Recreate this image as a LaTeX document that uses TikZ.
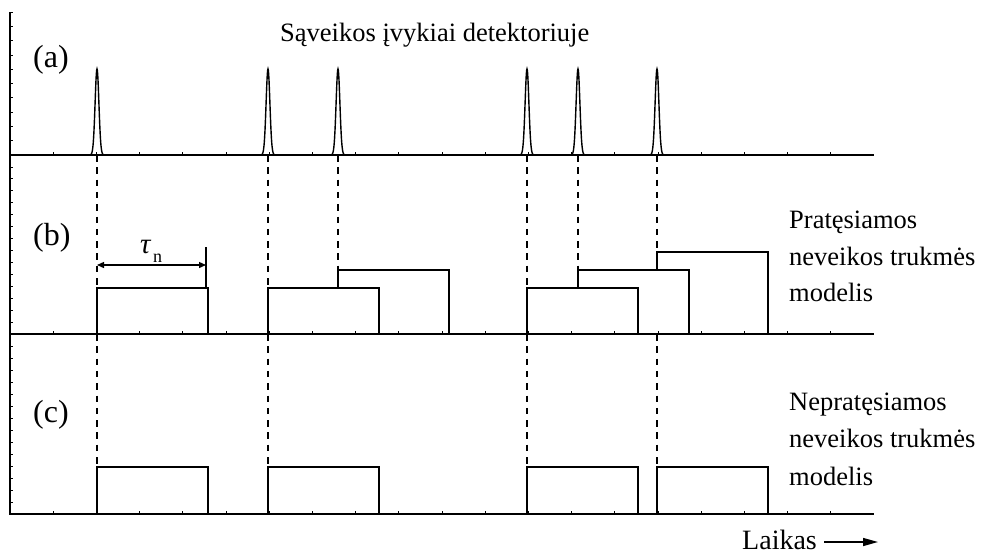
\documentclass[tikz,border=0pt]{standalone}
\usepackage{fontspec}
\setmainfont{Liberation Serif}
\usetikzlibrary{arrows.meta}
\begin{document}
\begin{tikzpicture}[x=1pt,y=-1pt,
  axis/.style={line width=1.8pt},
  tick/.style={line width=0.8pt},
  pulse/.style={line width=1.4pt},
  evline/.style={line width=1.3pt, dash pattern=on 6.5pt off 5.8pt},
  boxline/.style={line width=1.5pt},
  txt/.style={inner sep=0pt, anchor=base west, font=\fontsize{26.5}{30}\selectfont},
  lbl/.style={inner sep=0pt, anchor=base west, font=\fontsize{32}{36}\selectfont}]
\useasboundingbox (0,0) rectangle (982,554);
% axes
\draw[axis] (10,12) -- (10,514) -- (874,514);
\draw[axis] (10,155) -- (874,155);
\draw[axis] (10,334) -- (874,334);
% ticks
\foreach \i in {1,...,10} \draw[tick] (10,{155-14.3*\i}) -- ++(3,0);
\foreach \i in {1,...,14} \draw[tick] (10,{155+11.93*\i}) -- ++(3,0);
\foreach \i in {1,...,14} \draw[tick] (10,{334+12*\i}) -- ++(3,0);
\foreach \i in {1,...,19} {
  \draw[tick] ({10+43.2*\i},155) -- ++(0,-3);
  \draw[tick] ({10+43.2*\i},334) -- ++(0,-3);
  \draw[tick] ({10+43.2*\i},514) -- ++(0,-3);
}
% pulses
\foreach \p in {97,268,338,527,578,657}
  \draw[pulse] plot[domain={\p-8}:{\p+8}, samples=49, smooth] (\x,{155-86*exp(-((\x-\p)^2)/(2*1.9^2))});
% event coordinates
\coordinate (e1) at (97,155);
\coordinate (e2) at (268,155);
\coordinate (e3) at (338,155);
\coordinate (e4) at (527,155);
\coordinate (e5) at (578,155);
\coordinate (e6) at (657,155);
% dashed lines
\draw[evline] (e1) -- ++(0,132);
\draw[evline] (e2) -- ++(0,133);
\draw[evline] (e3) -- ++(0,114);
\draw[evline] (e4) -- ++(0,133);
\draw[evline] (e5) -- ++(0,115);
\draw[evline] (e6) -- ++(0,97);
\draw[evline] (97,334) -- (97,467);
\draw[evline] (268,334) -- (268,467);
\draw[evline] (527,334) -- (527,467);
\draw[evline] (657,334) -- (657,467);
% boxes (b)
\draw[boxline] (97,334) rectangle (208,288);
\draw[boxline] (268,334) rectangle (379,288);
\draw[boxline] (338,288) |- (449,270) -- (449,334);
\draw[boxline] (527,334) rectangle (638,288);
\draw[boxline] (578,288) |- (689,270) -- (689,334);
\draw[boxline] (657,270) |- (768,252) -- (768,334);
% boxes (c)
\draw[boxline] (97,514) rectangle (208,467);
\draw[boxline] (268,514) rectangle (379,467);
\draw[boxline] (527,514) rectangle (638,467);
\draw[boxline] (657,514) rectangle (768,467);
% tau
\coordinate (tl) at (97,265);
\coordinate (tr) at (206,265);
\draw[line width=1.3pt, {Triangle[length=7pt,width=6pt]}-{Triangle[length=7pt,width=6pt]}] (tl) -- (tr);
\draw[line width=1.2pt] (206,247) -- (206,288);
\node[inner sep=0pt, anchor=base west, font=\fontsize{29}{30}\selectfont\itshape] (tau) at (140,253) {τ};
\node[inner sep=0pt, anchor=base west, font=\fontsize{18}{20}\selectfont] (tsub) at (153,262) {n};
% labels
\node[lbl] (la) at (33,67) {(a)};
\node[lbl] (lb) at (33,245) {(b)};
\node[lbl] (lc) at (33,422) {(c)};
\node[txt] (title) at (280,41) {Sąveikos įvykiai detektoriuje};
\node[txt] (b1) at (789,228) {Pratęsiamos};
\node[txt] (b2) at (789,265) {neveikos trukmės};
\node[txt] (b3) at (789,301) {modelis};
\node[txt] (c1) at (789,410) {Nepratęsiamos};
\node[txt] (c2) at (789,447) {neveikos trukmės};
\node[txt] (c3) at (789,485) {modelis};
\node[inner sep=0pt, anchor=base west, text depth=0pt, font=\fontsize{28}{30}\selectfont] (laikas) at (742,549) {Laikas};
\coordinate (ts) at (824,542);
\coordinate (te) at (878,542);
\draw[line width=1.4pt, -{Triangle[length=15pt,width=8pt]}] (ts) -- (te);
\end{tikzpicture}
\end{document}
